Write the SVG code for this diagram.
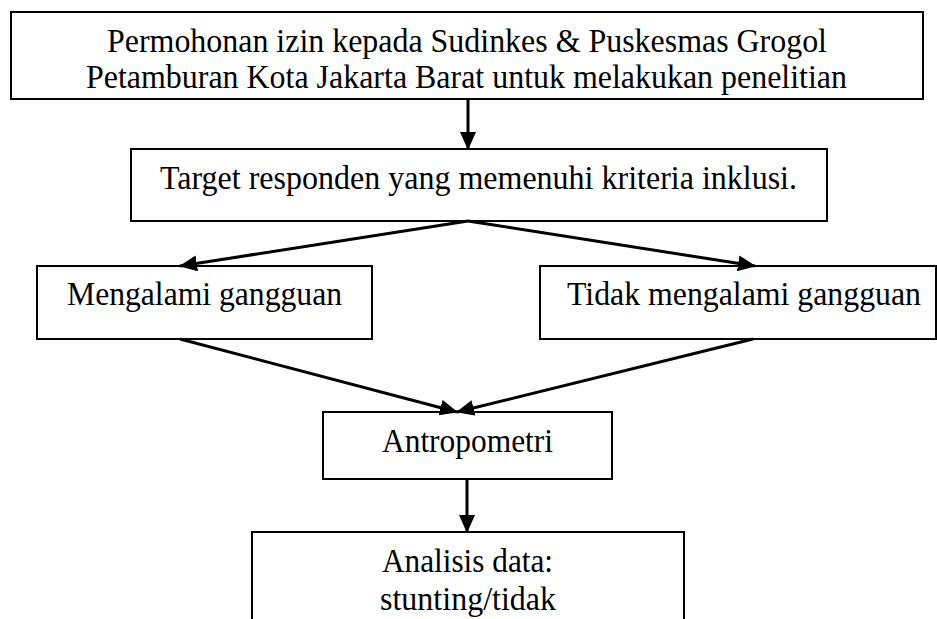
<svg xmlns="http://www.w3.org/2000/svg" width="937" height="619" viewBox="0 0 937 619">
<style>
.box{fill:#fff;stroke:#000;stroke-width:2}
.t{font-family:"Liberation Serif","Times New Roman",serif;font-size:33.5px;fill:#000;text-anchor:middle}
.c{stroke:#000;stroke-width:3;fill:none}
</style>
<defs>
<marker id="ah" markerUnits="userSpaceOnUse" markerWidth="18" markerHeight="16" refX="17" refY="8" orient="auto" viewBox="0 0 18 16">
<path d="M0,0 L18,8 L0,16 Z" fill="#000"/>
</marker>
</defs>
<rect width="937" height="619" fill="#fff"/>
<g id="n1"><rect class="box" x="11" y="12" width="912" height="87"/>
<text class="t" x="467" y="52" textLength="720" lengthAdjust="spacingAndGlyphs">Permohonan izin kepada Sudinkes &amp; Puskesmas Grogol</text>
<text class="t" x="466.5" y="88" textLength="761" lengthAdjust="spacingAndGlyphs">Petamburan Kota Jakarta Barat untuk melakukan penelitian</text></g>
<g id="n2"><rect class="box" x="131" y="149" width="696" height="72"/>
<text class="t" x="478.5" y="189" textLength="637" lengthAdjust="spacingAndGlyphs">Target responden yang memenuhi kriteria inklusi.</text></g>
<g id="n3"><rect class="box" x="37" y="266" width="335" height="73"/>
<text class="t" x="204.5" y="305" textLength="275" lengthAdjust="spacingAndGlyphs">Mengalami gangguan</text></g>
<g id="n4"><rect class="box" x="540" y="266" width="396" height="73"/>
<text class="t" x="744" y="305" textLength="354" lengthAdjust="spacingAndGlyphs">Tidak mengalami gangguan</text></g>
<g id="n5"><rect class="box" x="323" y="412" width="289" height="67"/>
<text class="t" x="467.5" y="452" textLength="171" lengthAdjust="spacingAndGlyphs">Antropometri</text></g>
<g id="n6"><rect class="box" x="252" y="532" width="432" height="100"/>
<text class="t" x="467.5" y="572" textLength="171" lengthAdjust="spacingAndGlyphs">Analisis data:</text>
<text class="t" x="468" y="610" textLength="176" lengthAdjust="spacingAndGlyphs">stunting/tidak</text></g>
<g id="connectors">
<line class="c" x1="468" y1="99" x2="468" y2="149" marker-end="url(#ah)"/>
<line class="c" x1="468" y1="221" x2="180" y2="266" marker-end="url(#ah)"/>
<line class="c" x1="468" y1="221" x2="755" y2="266" marker-end="url(#ah)"/>
<line class="c" x1="180" y1="339" x2="457" y2="412" marker-end="url(#ah)"/>
<line class="c" x1="753" y1="339" x2="457" y2="412" marker-end="url(#ah)"/>
<line class="c" x1="467" y1="479" x2="467" y2="532" marker-end="url(#ah)"/>
</g>
</svg>
